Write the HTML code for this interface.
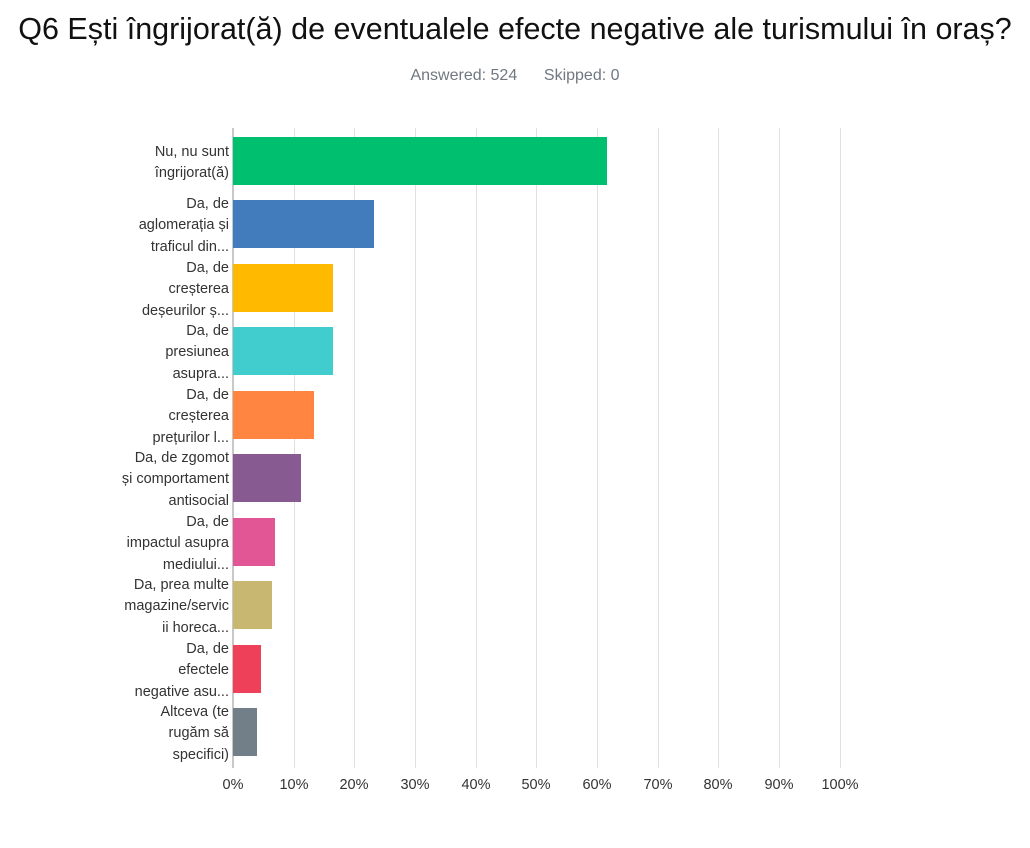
<!DOCTYPE html>
<html><head><style>
body{margin:0;background:#fff;width:1030px;height:848px;position:relative;font-family:"Liberation Sans",sans-serif;overflow:hidden}
.t{position:absolute;left:0;width:1030px;text-align:center}
.g{position:absolute;top:128px;height:640px;width:1px;background:#e0e0e0}
.bar{position:absolute;left:233px;height:48px}
.lab{position:absolute;right:801px;width:130px;text-align:right;font-size:14.5px;line-height:21.5px;color:#333;display:flex;flex-direction:column;justify-content:center;height:64px}
.tk{position:absolute;top:777px;font-size:14.5px;color:#333;width:60px;text-align:center}
</style></head><body>
<div class="t" style="top:12px;font-size:30.5px;color:#111;white-space:nowrap">Q6 Ești îngrijorat(ă) de eventualele efecte negative ale turismului în oraș?</div>
<div class="t" style="top:67px;font-size:16px;color:#6f7781">Answered: 524 &nbsp;&nbsp;&nbsp;&nbsp; Skipped: 0</div>
<div class="g" style="left:294px"></div><div class="g" style="left:354px"></div><div class="g" style="left:415px"></div><div class="g" style="left:476px"></div><div class="g" style="left:536px"></div><div class="g" style="left:597px"></div><div class="g" style="left:658px"></div><div class="g" style="left:718px"></div><div class="g" style="left:779px"></div><div class="g" style="left:840px"></div>
<div class="g" style="left:232px;width:2px;background:#c8c8c8"></div>
<div class="bar" style="top:137px;width:374px;background:#00bf6f"></div>
<div class="bar" style="top:200px;width:141px;background:#437cbd"></div>
<div class="bar" style="top:264px;width:100px;background:#ffba00"></div>
<div class="bar" style="top:327px;width:100px;background:#41cdcd"></div>
<div class="bar" style="top:391px;width:81px;background:#ff8541"></div>
<div class="bar" style="top:454px;width:68px;background:#875a92"></div>
<div class="bar" style="top:518px;width:42px;background:#e25696"></div>
<div class="bar" style="top:581px;width:39px;background:#c8b771"></div>
<div class="bar" style="top:645px;width:28px;background:#ef4059"></div>
<div class="bar" style="top:708px;width:24px;background:#737f88"></div>
<div class="lab" style="top:131px">Nu, nu sunt<br>îngrijorat(ă)</div>
<div class="lab" style="top:194px">Da, de<br>aglomerația și<br>traficul din...</div>
<div class="lab" style="top:258px">Da, de<br>creșterea<br>deșeurilor ș...</div>
<div class="lab" style="top:321px">Da, de<br>presiunea<br>asupra...</div>
<div class="lab" style="top:385px">Da, de<br>creșterea<br>prețurilor l...</div>
<div class="lab" style="top:448px">Da, de zgomot<br>și comportament<br>antisocial</div>
<div class="lab" style="top:512px">Da, de<br>impactul asupra<br>mediului...</div>
<div class="lab" style="top:575px">Da, prea multe<br>magazine/servic<br>ii horeca...</div>
<div class="lab" style="top:639px">Da, de<br>efectele<br>negative asu...</div>
<div class="lab" style="top:702px">Altceva (te<br>rugăm să<br>specifici)</div>
<div class="tk" style="left:203px">0%</div><div class="tk" style="left:264px">10%</div><div class="tk" style="left:324px">20%</div><div class="tk" style="left:385px">30%</div><div class="tk" style="left:446px">40%</div><div class="tk" style="left:506px">50%</div><div class="tk" style="left:567px">60%</div><div class="tk" style="left:628px">70%</div><div class="tk" style="left:688px">80%</div><div class="tk" style="left:749px">90%</div><div class="tk" style="left:810px">100%</div>
</body></html>
